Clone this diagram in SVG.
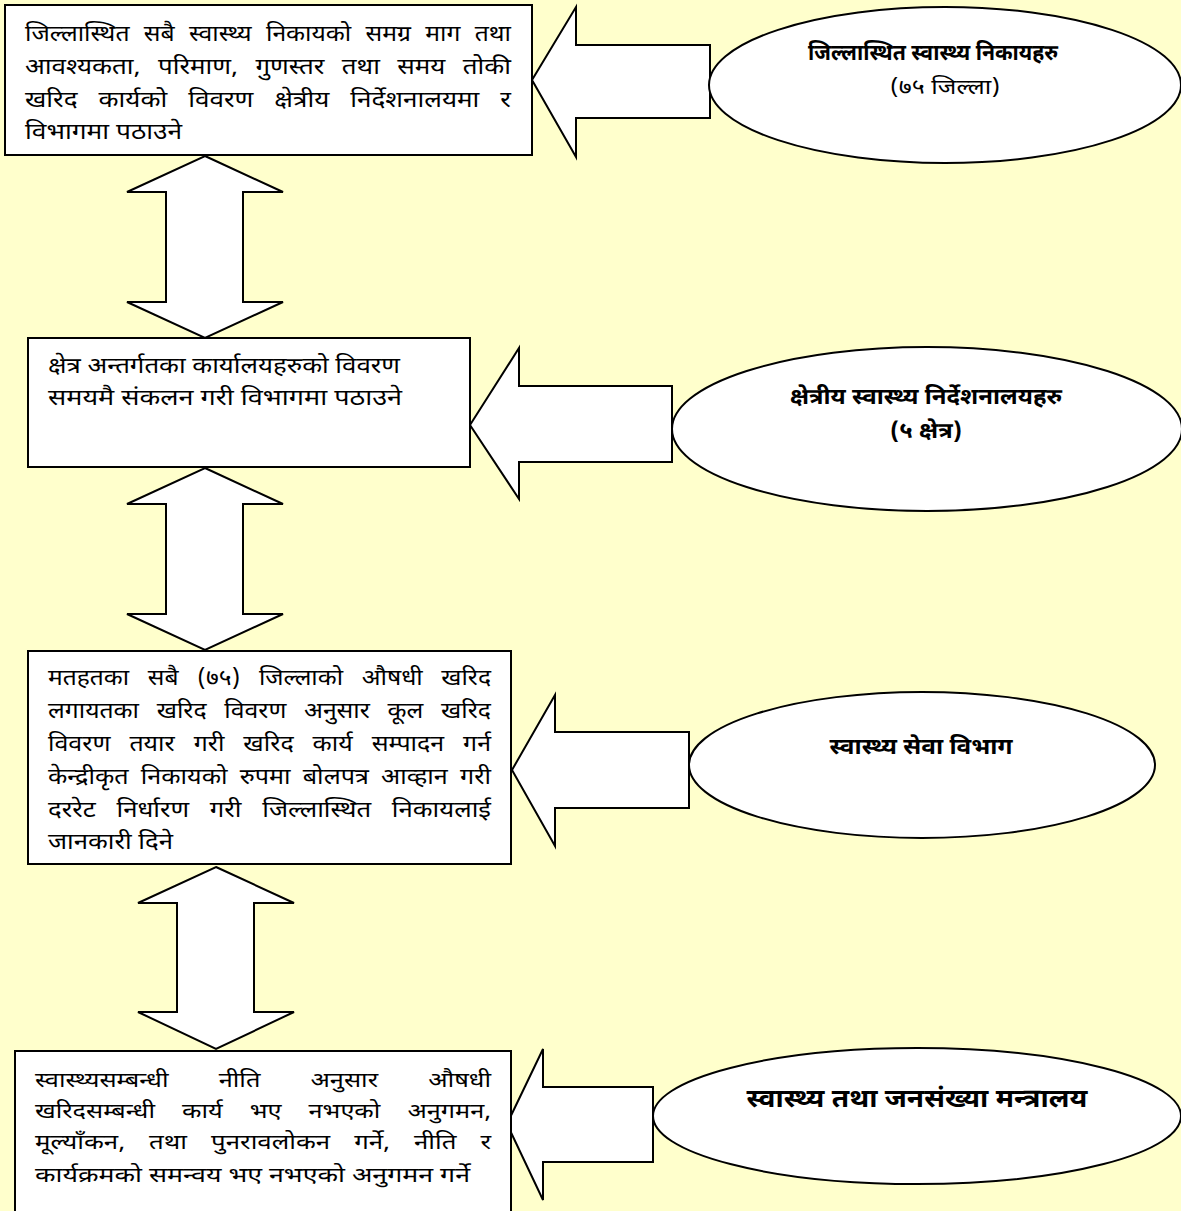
<svg xmlns="http://www.w3.org/2000/svg" width="1181" height="1211" viewBox="0 0 1181 1211">
<style>
.sh{fill:#fff;stroke:#000;stroke-width:2}
.t{font-family:"Noto Sans Devanagari","Noto Serif Devanagari","Lohit Devanagari","Noto Sans",sans-serif;font-size:22px;fill:#000}
.c{font-size:21px}
.b{font-weight:bold;text-anchor:middle}
.m{text-anchor:middle}
</style>
<rect width="1181" height="1211" fill="#FFFFCC"/>
<g id="connectors">
<polygon class="sh" points="205,156 283,192 243,192 243,302 283,302 205,338 127,302 166,302 166,192 127,192"/>
<polygon class="sh" points="205,468 283,504 243,504 243,614 283,614 205,650 127,614 166,614 166,504 127,504"/>
<polygon class="sh" points="216,867 294,903 254,903 254,1012 294,1012 216,1049 138,1012 177,1012 177,903 138,903"/>
<polygon class="sh" points="532,80 576,7 576,45 710,45 710,118 576,118 576,157"/>
<polygon class="sh" points="470,425 519,348 519,386 672,386 672,462 519,462 519,499"/>
<polygon class="sh" points="512,770 555,695 555,732 689,732 689,808 555,808 555,846"/>
<polygon class="sh" points="507,1124 543,1049 543,1087 653,1087 653,1162 543,1162 543,1200"/>
</g>
<g id="box1">
<rect class="sh" x="5" y="5" width="527" height="150"/>
<g class="t">
<text x="25" y="41" textLength="486" lengthAdjust="spacingAndGlyphs" word-spacing="7">जिल्लास्थित सबै स्वास्थ्य निकायको समग्र माग तथा</text>
<text x="25" y="74" textLength="486" lengthAdjust="spacingAndGlyphs" word-spacing="9">आवश्यकता, परिमाण, गुणस्तर तथा समय तोकी</text>
<text x="25" y="107" textLength="486" lengthAdjust="spacingAndGlyphs" word-spacing="12">खरिद कार्यको विवरण क्षेत्रीय निर्देशनालयमा र</text>
<text x="25" y="139" textLength="157" lengthAdjust="spacingAndGlyphs">विभागमा पठाउने</text>
</g>
</g>
<g id="box2">
<rect class="sh" x="28" y="338" width="442" height="129"/>
<g class="t">
<text x="48" y="373" textLength="352" lengthAdjust="spacingAndGlyphs">क्षेत्र अन्तर्गतका कार्यालयहरुको विवरण</text>
<text x="48" y="405" textLength="354" lengthAdjust="spacingAndGlyphs">समयमै संकलन गरी विभागमा पठाउने</text>
</g>
</g>
<g id="box3">
<rect class="sh" x="28" y="651" width="483" height="213"/>
<g class="t">
<text x="48" y="685" textLength="443" lengthAdjust="spacingAndGlyphs" word-spacing="11">मतहतका सबै (७५) जिल्लाको औषधी खरिद</text>
<text x="48" y="718" textLength="443" lengthAdjust="spacingAndGlyphs" word-spacing="10">लगायतका खरिद विवरण अनुसार कूल खरिद</text>
<text x="48" y="751" textLength="443" lengthAdjust="spacingAndGlyphs" word-spacing="11">विवरण तयार गरी खरिद कार्य सम्पादन गर्न</text>
<text x="48" y="784" textLength="443" lengthAdjust="spacingAndGlyphs" word-spacing="5">केन्द्रीकृत निकायको रुपमा बोलपत्र आव्हान गरी</text>
<text x="48" y="817" textLength="443" lengthAdjust="spacingAndGlyphs" word-spacing="12">दररेट निर्धारण गरी जिल्लास्थित निकायलाई</text>
<text x="48" y="849" textLength="125" lengthAdjust="spacingAndGlyphs">जानकारी दिने</text>
</g>
</g>
<g id="box4">
<rect class="sh" x="15" y="1051" width="496" height="170"/>
<g class="t c">
<text x="35" y="1087" textLength="456" lengthAdjust="spacingAndGlyphs" word-spacing="36">स्वास्थ्यसम्बन्धी नीति अनुसार औषधी</text>
<text x="35" y="1118" textLength="456" lengthAdjust="spacingAndGlyphs" word-spacing="17">खरिदसम्बन्धी कार्य भए नभएको अनुगमन,</text>
<text x="35" y="1149" textLength="456" lengthAdjust="spacingAndGlyphs" word-spacing="14">मूल्याँकन, तथा पुनरावलोकन गर्ने, नीति र</text>
<text x="35" y="1182" textLength="435" lengthAdjust="spacingAndGlyphs">कार्यक्रमको समन्वय भए नभएको अनुगमन गर्ने</text>
</g>
</g>
<g id="ellipse1">
<ellipse class="sh" cx="945" cy="85" rx="236" ry="78"/>
<text class="t b" x="933" y="60" textLength="250" lengthAdjust="spacingAndGlyphs">जिल्लास्थित स्वास्थ्य निकायहरु</text>
<text class="t m" x="945" y="94" textLength="110" lengthAdjust="spacingAndGlyphs" style="font-size:20px">(७५ जिल्ला)</text>
</g>
<g id="ellipse2">
<ellipse class="sh" cx="927" cy="429" rx="255" ry="82"/>
<text class="t b" x="926" y="404" textLength="272" lengthAdjust="spacingAndGlyphs">क्षेत्रीय स्वास्थ्य निर्देशनालयहरु</text>
<text class="t b" x="926" y="438" textLength="72" lengthAdjust="spacingAndGlyphs">(५ क्षेत्र)</text>
</g>
<g id="ellipse3">
<ellipse class="sh" cx="922" cy="765" rx="233" ry="73"/>
<text class="t b" x="921" y="754" textLength="183" lengthAdjust="spacingAndGlyphs">स्वास्थ्य सेवा विभाग</text>
</g>
<g id="ellipse4">
<ellipse class="sh" cx="917" cy="1116" rx="264" ry="68"/>
<text class="t b" x="917" y="1107" textLength="341" lengthAdjust="spacingAndGlyphs" style="font-size:26px">स्वास्थ्य तथा जनसंख्या मन्त्रालय</text>
</g>
</svg>
